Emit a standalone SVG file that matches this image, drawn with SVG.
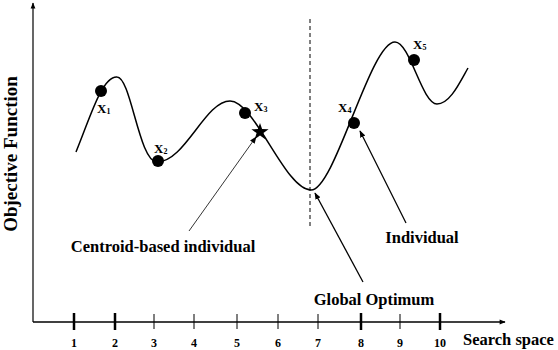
<svg xmlns="http://www.w3.org/2000/svg" width="558" height="350" viewBox="0 0 558 350">
<defs>
<style>
.ax{stroke:#000;stroke-width:1.5;fill:none}
.tk{stroke:#000;stroke-width:1}
.tkb{stroke:#000;stroke-width:2.5}
.lbl{font-family:"Liberation Serif","Times New Roman",serif;font-weight:bold;fill:#000}
.big{font-size:16.5px}
.num{font-size:12px;text-anchor:middle}
.xl{font-size:13px}
.sub{font-size:8px}
.dot{fill:#000}
.arr{stroke:#000;stroke-width:1.3;fill:none;marker-end:url(#ah)}
</style>
<marker id="ah" viewBox="0 0 10 10" refX="9" refY="5" markerWidth="7" markerHeight="7" orient="auto" markerUnits="userSpaceOnUse">
<path d="M0,1 L10,5 L0,9 z" fill="#000"/>
</marker>
<marker id="axh" viewBox="0 0 10 10" refX="9" refY="5" markerWidth="7" markerHeight="6" orient="auto" markerUnits="userSpaceOnUse">
<path d="M0,1 L10,5 L0,9 z" fill="#000"/>
</marker>
</defs>
<rect width="558" height="350" fill="#fff"/>
<g id="axes">
<line x1="33" y1="322" x2="33" y2="3" class="ax" style="stroke-width:1.2" marker-end="url(#axh)"/>
<line x1="33" y1="322" x2="505" y2="322" class="ax" style="stroke-width:1.5" marker-end="url(#axh)"/>
<line x1="74" y1="313" x2="74" y2="330" class="tkb"/>
<line x1="115" y1="313" x2="115" y2="330" class="tkb"/>
<line x1="154" y1="314" x2="154" y2="329" class="tk"/>
<line x1="194" y1="314" x2="194" y2="329" class="tk"/>
<line x1="237" y1="314" x2="237" y2="329" class="tk"/>
<line x1="278" y1="314" x2="278" y2="329" class="tk"/>
<line x1="318" y1="314" x2="318" y2="329" class="tk"/>
<line x1="361" y1="313" x2="361" y2="330" class="tkb"/>
<line x1="400" y1="314" x2="400" y2="329" class="tk"/>
<line x1="440" y1="313" x2="440" y2="330" class="tkb"/>
<g class="lbl num">
<text x="74" y="347">1</text><text x="115" y="347">2</text><text x="154" y="347">3</text><text x="194" y="347">4</text><text x="237" y="347">5</text><text x="278" y="347">6</text><text x="318" y="347">7</text><text x="361" y="347">8</text><text x="400" y="347">9</text><text x="440" y="347">10</text>
</g>
<text class="lbl" x="463" y="345" style="font-size:16.5px">Search space</text>
<text class="lbl" transform="translate(17,154) rotate(-90)" text-anchor="middle" style="font-size:19px">Objective Function</text>
</g>
<g id="optimum-line">
<line x1="310" y1="19" x2="310" y2="226" stroke="#000" stroke-width="1" stroke-dasharray="4,3"/>
</g>
<g id="curve">
<path d="M76,152 C90,118 102,76 117,77 C131,77 139,162 157,162 C185,162 205,101 230,101 C255,101 285,190 311,190 C335,190 370,42 395,42 C410,42 422,104 437,104 C450,104 460,82 468,68" fill="none" stroke="#000" stroke-width="1.5"/>
</g>
<g id="x1"><circle cx="101" cy="91" r="6" class="dot"/><text class="lbl xl" x="97" y="113">X<tspan class="sub" dy="1">1</tspan></text></g>
<g id="x2"><circle cx="158" cy="161" r="6" class="dot"/><text class="lbl xl" x="154" y="153">X<tspan class="sub" dy="1">2</tspan></text></g>
<g id="x3"><circle cx="245" cy="113" r="6" class="dot"/><text class="lbl xl" x="254" y="111">X<tspan class="sub" dy="1">3</tspan></text></g>
<g id="x4"><circle cx="354" cy="123" r="6" class="dot"/><text class="lbl xl" x="338" y="112">X<tspan class="sub" dy="1">4</tspan></text></g>
<g id="x5"><circle cx="414" cy="60" r="6" class="dot"/><text class="lbl xl" x="413" y="49">X<tspan class="sub" dy="1">5</tspan></text></g>
<g id="star">
<polygon points="260,123 262.1,129.1 268.6,129.2 263.4,133.1 265.3,139.3 260,135.6 254.7,139.3 256.6,133.1 251.4,129.2 257.9,129.1" fill="#000"/>
</g>
<g id="connectors">
<line x1="189" y1="231" x2="256" y2="137" class="arr" style="stroke-width:0.8"/>
<line x1="406" y1="223" x2="360" y2="131" class="arr"/>
<line x1="363" y1="282" x2="315" y2="193" class="arr"/>
</g>
<g id="label-centroid"><text class="lbl big" x="163" y="252" text-anchor="middle">Centroid-based individual</text></g>
<g id="label-individual"><text class="lbl big" x="422" y="243" text-anchor="middle">Individual</text></g>
<g id="label-global"><text class="lbl big" x="374" y="305" text-anchor="middle">Global Optimum</text></g>
</svg>
